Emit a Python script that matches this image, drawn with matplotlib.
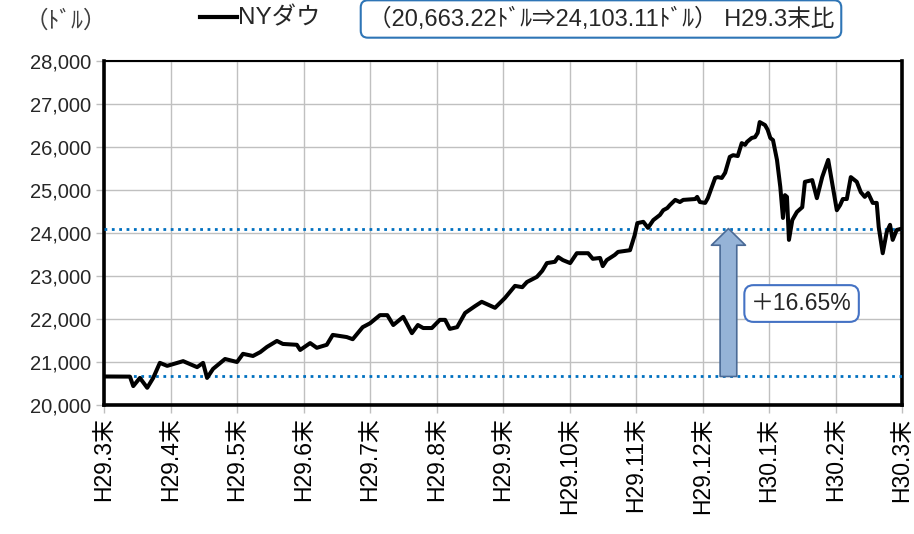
import matplotlib.pyplot as plt
from matplotlib.lines import Line2D

plt.rcParams['font.family'] = ['Liberation Sans', 'Noto Sans CJK JP']

# month position (0 = H29.3末, 12 = H30.3末) and NY Dow close (ドル)
month_pos = [0.00, 0.39, 0.44, 0.54, 0.65, 0.74, 0.84, 0.95, 1.19, 1.40,
             1.49, 1.55, 1.64, 1.82, 2.00, 2.09, 2.24, 2.35, 2.45, 2.60,
             2.69, 2.90, 2.95, 3.10, 3.20, 3.35, 3.44, 3.65, 3.74, 3.89,
             4.00, 4.15, 4.26, 4.35, 4.50, 4.63, 4.72, 4.80, 4.93, 5.05,
             5.13, 5.20, 5.31, 5.43, 5.58, 5.68, 5.88, 6.03, 6.18, 6.29,
             6.36, 6.51, 6.59, 6.66, 6.78, 6.83, 6.90, 7.01, 7.11, 7.28,
             7.35, 7.46, 7.50, 7.56, 7.68, 7.73, 7.91, 7.98, 8.02, 8.11,
             8.18, 8.26, 8.36, 8.41, 8.47, 8.51, 8.59, 8.66, 8.71, 8.89,
             8.92, 8.96, 9.04, 9.08, 9.19, 9.23, 9.29, 9.34, 9.41, 9.46,
             9.53, 9.59, 9.64, 9.67, 9.74, 9.79, 9.83, 9.86, 9.94, 9.98,
             10.02, 10.06, 10.12, 10.17, 10.21, 10.24, 10.27, 10.30, 10.35, 10.42,
             10.50, 10.54, 10.65, 10.72, 10.80, 10.89, 10.95, 11.02, 11.07, 11.11,
             11.17, 11.23, 11.32, 11.38, 11.44, 11.49, 11.56, 11.62, 11.65, 11.71,
             11.77, 11.82, 11.86, 11.92, 12.00]
dow = [20663, 20660, 20440, 20630, 20400, 20630, 20980, 20910, 21020, 20880,
       20980, 20630, 20840, 21070, 21000, 21190, 21140, 21230, 21350, 21490,
       21420, 21400, 21280, 21440, 21330, 21400, 21630, 21580, 21530, 21810,
       21900, 22090, 22090, 21860, 22050, 21670, 21860, 21790, 21790, 21980,
       21980, 21770, 21810, 22140, 22300, 22400, 22260, 22490, 22770, 22740,
       22860, 22980, 23120, 23300, 23330, 23440, 23370, 23300, 23530, 23530,
       23400, 23420, 23230, 23370, 23490, 23560, 23600, 23950, 24230, 24260,
       24120, 24300, 24420, 24530, 24580, 24650, 24770, 24720, 24770, 24790,
       24840, 24720, 24700, 24810, 25280, 25300, 25280, 25400, 25770, 25810,
       25790, 26090, 26050, 26120, 26210, 26230, 26330, 26580, 26510, 26400,
       26210, 26160, 25700, 25070, 24350, 24880, 24840, 23840, 24300, 24490,
       24600, 25190, 25230, 24810, 25300, 25700, 25160, 24530, 24650, 24790,
       24790, 25300, 25190, 24950, 24840, 24930, 24700, 24700, 24140, 23530,
       24020, 24190, 23840, 24070, 24103]

tick_labels = ['H29.3末', 'H29.4末', 'H29.5末', 'H29.6末', 'H29.7末', 'H29.8末',
               'H29.9末', 'H29.10末', 'H29.11末', 'H29.12末', 'H30.1末',
               'H30.2末', 'H30.3末']
y_ticks = [20000, 21000, 22000, 23000, 24000, 25000, 26000, 27000, 28000]

base_value = 20663.22
last_value = 24103.11
change_label = '＋16.65%'
arrow_pos = 9.39

W, H = 914, 534
fig = plt.figure(figsize=(W / 100, H / 100), dpi=100)
ax = fig.add_axes([104 / W, 1 - 405 / H, (902 - 104) / W, (405 - 61) / H])

ax.plot(month_pos, dow, color='black', lw=2.9, solid_joinstyle='round', zorder=4)
for v in (base_value, last_value):
    ax.axhline(v, color='#0070c0', lw=2, ls=':', zorder=3)

# arrow showing the rise
ax.annotate('', xy=(arrow_pos, last_value), xytext=(arrow_pos, base_value),
            arrowprops=dict(arrowstyle='simple,head_width=2.45,head_length=1.2,tail_width=1.2',
                            mutation_scale=10, fc='#95b3d7', ec='#4a6a96', lw=1.2,
                            shrinkA=0, shrinkB=0), zorder=5)
ax.text(10.49, 22360, change_label, ha='center', va='center', fontsize=16.5,
        color='#262626', zorder=6,
        bbox=dict(boxstyle='round,pad=0.3,rounding_size=0.4', fc='white',
                  ec='#4472c4', lw=1.5))

ax.set_xlim(0, 12)
ax.set_ylim(20000, 28000)
ax.set_xticks(range(len(tick_labels)))
ax.set_xticklabels(tick_labels, rotation=90, fontsize=16.5)
ax.set_yticks(y_ticks)
ax.set_yticklabels([f'{v:,}' for v in y_ticks], fontsize=14.5, color='#262626')
ax.tick_params(axis='both', length=6, width=1, color='#bfbfbf', pad=3)
ax.grid(True, color='#c0c0c0', lw=1)
ax.set_axisbelow(True)
for side in ('left', 'bottom', 'right'):
    ax.spines[side].set_linewidth(2.6)
ax.spines['top'].set_linewidth(1.5)

# legend and header texts
fig.text(66 / W, 1 - 22 / H, '（ﾄﾞﾙ）', ha='center', va='center', fontsize=17, color='#404040')
fig.add_artist(Line2D([200 / W, 237 / W], [1 - 17 / H, 1 - 17 / H], color='black', lw=3))
fig.text(238 / W, 1 - 18 / H, 'NYダウ', ha='left', va='center', fontsize=17.5, color='#262626')
fig.text(601 / W, 1 - 19 / H, '（20,663.22ﾄﾞﾙ⇒24,103.11ﾄﾞﾙ） H29.3末比',
         ha='center', va='center', fontsize=17, color='#262626',
         bbox=dict(boxstyle='round,pad=0.3,rounding_size=0.3', fc='white',
                   ec='#2e75b6', lw=1.5))

fig.savefig('out.png', dpi=100)
